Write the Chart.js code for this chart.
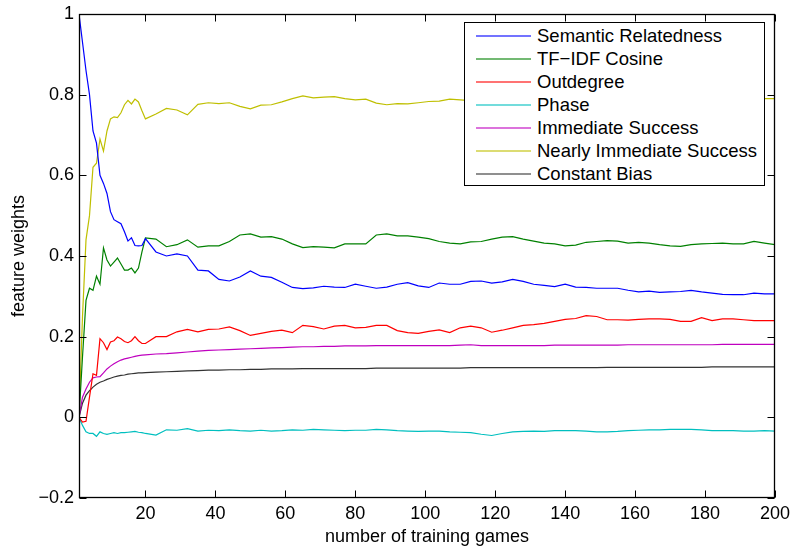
<!DOCTYPE html>
<html>
<head>
<meta charset="utf-8">
<title>feature weights</title>
<script src="https://cdn.jsdelivr.net/npm/chart.js@4.4.1/dist/chart.umd.min.js"></script>
<style>
  body { margin: 0; background: #fff; }
  #wrap { position: relative; width: 790px; height: 546px; }
  #legend {
    position: absolute; left: 464px; top: 22px; width: 301px; height: 164px;
    box-sizing: border-box; border: 1px solid #000; background: #fff;
    padding: 1px 0 0 11px;
    font: 18.5px "Liberation Sans", Arial, sans-serif; color: #000;
  }
  #legend .row { height: 23px; display: flex; align-items: center; white-space: nowrap; }
  #legend .swatch { display: block; width: 55px; height: 2px; margin-right: 6px; opacity: 0.55; }
</style>
</head>
<body>
<div id="wrap">
  <canvas id="chart" width="790" height="546"></canvas>
  <div id="legend"></div>
</div>
<script>
// game number for each sample (every game up to 20, then every 3rd)
const games = [1, 2, 3, 4, 5, 6, 7, 8, 9, 10, 11, 12, 13, 14, 15, 16, 17, 18, 19, 20,
  23, 26, 29, 32, 35, 38, 41, 44, 47, 50, 53, 56, 59, 62, 65, 68, 71, 74, 77, 80,
  83, 86, 89, 92, 95, 98, 101, 104, 107, 110, 113, 116, 119, 122, 125, 128, 131, 134, 137, 140,
  143, 146, 149, 152, 155, 158, 161, 164, 167, 170, 173, 176, 179, 182, 185, 188, 191, 194, 197, 200];

const semantic = [1.0, 0.93, 0.86, 0.80, 0.71, 0.68, 0.60, 0.58, 0.555, 0.51, 0.49, 0.485, 0.48, 0.46, 0.437, 0.445, 0.426, 0.425, 0.426, 0.443,
  0.41, 0.40, 0.405, 0.40, 0.365, 0.363, 0.342, 0.338, 0.348, 0.363, 0.35, 0.347, 0.335, 0.322, 0.319, 0.321, 0.325, 0.323, 0.322, 0.33,
  0.325, 0.32, 0.323, 0.33, 0.334, 0.326, 0.322, 0.333, 0.33, 0.33, 0.337, 0.338, 0.333, 0.336, 0.342, 0.337, 0.33, 0.327, 0.324, 0.33,
  0.323, 0.322, 0.32, 0.32, 0.32, 0.315, 0.311, 0.313, 0.31, 0.311, 0.312, 0.315, 0.311, 0.308, 0.305, 0.304, 0.304, 0.308, 0.306, 0.306];

const tfidf = [0, 0.15, 0.29, 0.32, 0.315, 0.35, 0.33, 0.42, 0.39, 0.375, 0.385, 0.395, 0.38, 0.365, 0.365, 0.37, 0.358, 0.37, 0.41, 0.445,
  0.442, 0.423, 0.428, 0.44, 0.422, 0.425, 0.425, 0.436, 0.452, 0.455, 0.447, 0.448, 0.442, 0.43, 0.421, 0.423, 0.422, 0.42, 0.43, 0.43,
  0.43, 0.452, 0.455, 0.45, 0.45, 0.447, 0.443, 0.436, 0.432, 0.43, 0.435, 0.436, 0.442, 0.447, 0.448, 0.442, 0.437, 0.432, 0.43, 0.425,
  0.427, 0.434, 0.436, 0.438, 0.437, 0.432, 0.434, 0.432, 0.428, 0.425, 0.424, 0.428, 0.43, 0.431, 0.432, 0.43, 0.43, 0.436, 0.432, 0.428];

const outdegree = [0, -0.012, -0.01, 0.05, 0.108, 0.104, 0.195, 0.185, 0.168, 0.187, 0.19, 0.199, 0.195, 0.188, 0.185, 0.19, 0.2, 0.19, 0.183, 0.183,
  0.2, 0.2, 0.212, 0.218, 0.212, 0.218, 0.219, 0.224, 0.215, 0.203, 0.208, 0.213, 0.216, 0.21, 0.228, 0.225, 0.219, 0.226, 0.228, 0.222,
  0.223, 0.228, 0.228, 0.215, 0.21, 0.208, 0.213, 0.217, 0.21, 0.222, 0.226, 0.222, 0.211, 0.216, 0.222, 0.228, 0.23, 0.233, 0.238, 0.243,
  0.245, 0.252, 0.25, 0.242, 0.242, 0.241, 0.243, 0.244, 0.244, 0.243, 0.238, 0.238, 0.247, 0.24, 0.244, 0.244, 0.242, 0.24, 0.24, 0.24];

const phase = [0, -0.02, -0.036, -0.04, -0.04, -0.047, -0.036, -0.04, -0.042, -0.04, -0.038, -0.04, -0.038, -0.038, -0.037, -0.036, -0.035, -0.037, -0.038, -0.04,
  -0.044, -0.031, -0.032, -0.028, -0.034, -0.032, -0.033, -0.031, -0.033, -0.034, -0.032, -0.034, -0.033, -0.031, -0.032, -0.03, -0.031, -0.032, -0.033, -0.032,
  -0.032, -0.03, -0.031, -0.033, -0.034, -0.035, -0.034, -0.034, -0.036, -0.037, -0.038, -0.042, -0.045, -0.04, -0.036, -0.035, -0.034, -0.035, -0.033, -0.033,
  -0.033, -0.034, -0.036, -0.036, -0.035, -0.033, -0.032, -0.031, -0.031, -0.03, -0.03, -0.03, -0.031, -0.033, -0.033, -0.033, -0.034, -0.034, -0.033, -0.034];

const immediate = [0, 0.05, 0.07, 0.087, 0.098, 0.1, 0.101, 0.11, 0.12, 0.127, 0.133, 0.138, 0.142, 0.145, 0.147, 0.149, 0.151, 0.153, 0.154, 0.155,
  0.157, 0.158, 0.16, 0.162, 0.164, 0.166, 0.167, 0.168, 0.169, 0.17, 0.171, 0.172, 0.173, 0.174, 0.175, 0.175, 0.176, 0.176, 0.177, 0.177,
  0.177, 0.178, 0.178, 0.178, 0.178, 0.178, 0.178, 0.178, 0.178, 0.179, 0.18, 0.178, 0.178, 0.178, 0.178, 0.178, 0.178, 0.178, 0.179, 0.179,
  0.179, 0.179, 0.179, 0.179, 0.179, 0.18, 0.18, 0.18, 0.18, 0.18, 0.18, 0.18, 0.18, 0.18, 0.181, 0.181, 0.181, 0.181, 0.181, 0.181];

const nearly = [0, 0.25, 0.44, 0.5, 0.62, 0.63, 0.69, 0.66, 0.71, 0.74, 0.745, 0.743, 0.755, 0.775, 0.786, 0.777, 0.789, 0.782, 0.76, 0.74,
  0.752, 0.766, 0.762, 0.75, 0.776, 0.78, 0.778, 0.78, 0.771, 0.765, 0.774, 0.775, 0.782, 0.79, 0.797, 0.792, 0.794, 0.795, 0.79, 0.787,
  0.789, 0.779, 0.775, 0.778, 0.777, 0.78, 0.783, 0.784, 0.789, 0.787, 0.785, 0.787, 0.784, 0.786, 0.788, 0.785, 0.787, 0.789, 0.786, 0.788,
  0.787, 0.785, 0.788, 0.79, 0.787, 0.786, 0.788, 0.79, 0.789, 0.787, 0.788, 0.79, 0.789, 0.787, 0.788, 0.79, 0.789, 0.788, 0.79, 0.79];

const bias = [0, 0.035, 0.055, 0.066, 0.075, 0.082, 0.087, 0.09, 0.094, 0.097, 0.1, 0.102, 0.104, 0.105, 0.107, 0.108, 0.109, 0.11, 0.11, 0.111,
  0.112, 0.113, 0.114, 0.115, 0.116, 0.117, 0.117, 0.118, 0.118, 0.119, 0.119, 0.12, 0.12, 0.12, 0.121, 0.121, 0.121, 0.121, 0.121, 0.121,
  0.121, 0.122, 0.122, 0.122, 0.122, 0.122, 0.122, 0.122, 0.122, 0.122, 0.123, 0.123, 0.123, 0.123, 0.123, 0.123, 0.123, 0.123, 0.123, 0.123,
  0.123, 0.123, 0.123, 0.124, 0.124, 0.124, 0.124, 0.124, 0.124, 0.124, 0.124, 0.124, 0.124, 0.125, 0.125, 0.125, 0.125, 0.125, 0.125, 0.125];

const seriesNames = ['Semantic Relatedness', 'TF\u2212IDF Cosine', 'Outdegree', 'Phase',
  'Immediate Success', 'Nearly Immediate Success', 'Constant Bias'];
const seriesColors = ['#0000ff', '#008000', '#ff0000', '#00bfbf', '#bf00bf', '#bfbf00', '#333333'];
const seriesValues = [semantic, tfidf, outdegree, phase, immediate, nearly, bias];

const xTicks = [20, 40, 60, 80, 100, 120, 140, 160, 180, 200];
const yTicks = [-0.2, 0, 0.2, 0.4, 0.6, 0.8, 1];
const yTickLabels = ['\u22120.2', '0', '0.2', '0.4', '0.6', '0.8', '1'];

const FONT = '"Liberation Sans", Arial, sans-serif';
Chart.defaults.font.family = FONT;
Chart.defaults.font.size = 18;
Chart.defaults.color = '#000';

// matlab style box with ticks pointing inwards on all four sides
const boxTicks = {
  id: 'boxTicks',
  afterDatasetsDraw(chart) {
    const { ctx, chartArea: a, scales } = chart;
    const left = Math.round(a.left) + 0.5, right = Math.round(a.right) - 0.5;
    const top = Math.round(a.top) + 0.5, bottom = Math.round(a.bottom) - 0.5;
    ctx.save();
    ctx.strokeStyle = '#000';
    ctx.lineWidth = 1;
    ctx.beginPath();
    scales.x.ticks.forEach(t => {
      const px = Math.round(scales.x.getPixelForValue(t.value)) + 0.5;
      ctx.moveTo(px, bottom); ctx.lineTo(px, bottom - 7);
      ctx.moveTo(px, top); ctx.lineTo(px, top + 7);
    });
    scales.y.ticks.forEach(t => {
      const py = Math.round(scales.y.getPixelForValue(t.value)) + 0.5;
      ctx.moveTo(left, py); ctx.lineTo(left + 7, py);
      ctx.moveTo(right, py); ctx.lineTo(right - 7, py);
    });
    ctx.stroke();
    ctx.lineWidth = 1.3;
    ctx.strokeRect(left, top, right - left, bottom - top);
    ctx.restore();
  }
};

const datasets = seriesValues.map((vals, i) => ({
  label: seriesNames[i],
  data: games.map((g, j) => ({ x: g, y: vals[j] })),
  borderColor: seriesColors[i],
  borderWidth: 1.2,
  pointRadius: 0,
  tension: 0,
  fill: false
}));

const chart = new Chart(document.getElementById('chart'), {
  type: 'line',
  data: { datasets },
  options: {
    responsive: false,
    animation: false,
    layout: { padding: { top: 14, right: 15, left: 0, bottom: 0 } },
    plugins: { legend: { display: false }, tooltip: { enabled: false } },
    scales: {
      x: {
        type: 'linear',
        min: 1,
        max: 200,
        afterBuildTicks: s => { s.ticks = xTicks.map(v => ({ value: v })); },
        afterFit: s => { s.height = 48; s.paddingLeft = 0; s.paddingRight = 0; },
        grid: { display: false, drawTicks: false },
        border: { display: false },
        ticks: { padding: 5, maxRotation: 0, autoSkip: false, callback: v => String(v) },
        title: {
          display: true,
          text: 'number of training games',
          font: { size: 18, lineHeight: 1 },
          padding: 0
        }
      },
      y: {
        min: -0.2,
        max: 1,
        afterBuildTicks: s => { s.ticks = yTicks.map(v => ({ value: v })); },
        afterFit: s => { s.width = 79; s.paddingTop = 0; s.paddingBottom = 0; },
        grid: { display: false, drawTicks: false },
        border: { display: false },
        ticks: { padding: 5, autoSkip: false, callback: v => yTickLabels[yTicks.indexOf(v)] },
        title: {
          display: true,
          text: 'feature weights',
          font: { size: 18, lineHeight: 1 },
          padding: { top: 10, bottom: 0 }
        }
      }
    }
  },
  plugins: [boxTicks]
});

function renderLegend() {
  const box = document.getElementById('legend');
  box.innerHTML = '';
  chart.data.datasets.forEach(ds => {
    const row = document.createElement('div');
    row.className = 'row';
    row.innerHTML = `<span class="swatch" style="background:${ds.borderColor}"></span><span>${ds.label}</span>`;
    box.appendChild(row);
  });
}

renderLegend();
</script>
</body>
</html>
